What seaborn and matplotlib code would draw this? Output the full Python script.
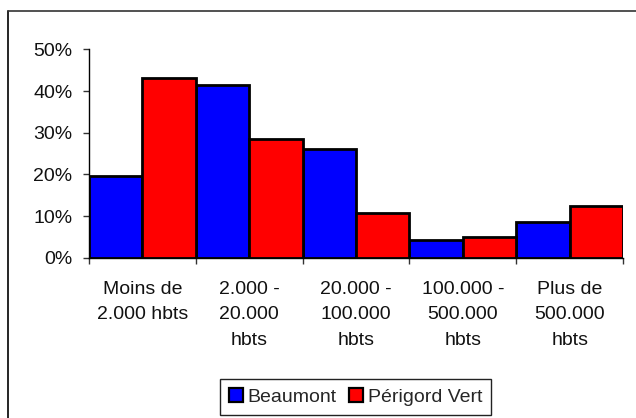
import pandas as pd
import matplotlib.pyplot as plt
import seaborn as sns
from matplotlib.lines import Line2D
from matplotlib.ticker import PercentFormatter, FixedLocator

# Data (percent)
categories = ['Moins de\n2.000 hbts', '2.000 -\n20.000\nhbts', '20.000 -\n100.000\nhbts',
              '100.000 -\n500.000\nhbts', 'Plus de\n500.000\nhbts']
beaumont = [19.6, 41.4, 26.0, 4.2, 8.6]
perigord = [43.1, 28.5, 10.7, 5.0, 12.5]
series_names = ['Beaumont', 'Périgord Vert']
y_ticks = [0, 10, 20, 30, 40, 50]

df = pd.DataFrame({
    'Categorie': categories * 2,
    'Valeur': beaumont + perigord,
    'Serie': [series_names[0]] * len(categories) + [series_names[1]] * len(categories),
})

sns.set_theme(style="white")
plt.rcParams['font.family'] = ['Liberation Sans', 'DejaVu Sans']

fig = plt.figure(figsize=(6.36, 4.18), dpi=100)
ax = fig.add_axes([0.140, 0.383, 0.8396, 0.499])

sns.barplot(data=df, x='Categorie', y='Valeur', hue='Serie', order=categories,
            hue_order=series_names, palette=['#0000FF', '#FF0000'], width=1.0,
            edgecolor='black', linewidth=2.0, saturation=1, ax=ax, legend=False)

ax.set_xlim(-0.5, len(categories) - 0.5)
ax.set_ylim(0, 50)
ax.set_yticks(y_ticks)
ax.yaxis.set_major_formatter(PercentFormatter(decimals=0))
ax.set_xlabel('')
ax.set_ylabel('')

# category labels centred, tick marks at group boundaries
ax.set_xticks(range(len(categories)))
ax.set_xticklabels(categories, fontsize=14, linespacing=1.65, color='#111111')
ax.xaxis.set_minor_locator(FixedLocator([i - 0.5 for i in range(len(categories) + 1)]))
ax.tick_params(axis='x', which='major', length=0, pad=16.5)
ax.tick_params(axis='x', which='minor', length=4.5, width=1, color='#333333', direction='out', bottom=True)
ax.tick_params(axis='y', length=4.5, width=1, color='#333333', direction='out', left=True,
               labelsize=14, labelcolor='#111111', pad=7.5)

for side in ['top', 'right']:
    ax.spines[side].set_visible(False)
for side in ['left', 'bottom']:
    ax.spines[side].set_color('black')
    ax.spines[side].set_linewidth(1.0)

handles = [Line2D([], [], marker='s', linestyle='none', markersize=10,
                  markerfacecolor=c, markeredgecolor='black', markeredgewidth=1.6)
           for c in ['#0000FF', '#FF0000']]
leg = fig.legend(handles, series_names, loc='center', bbox_to_anchor=(355.5 / 636, 1 - 397 / 418),
                 ncol=2, fontsize=14, frameon=True, fancybox=False, framealpha=1,
                 edgecolor='#222222', handletextpad=0.2, columnspacing=0.6,
                 borderpad=0.45, borderaxespad=0, handlelength=0.8)
leg.get_frame().set_linewidth(1.0)

# chart border (left and top only visible in the reference crop)
fig.add_artist(Line2D([8 / 636, 8 / 636], [0, 1 - 11 / 418], transform=fig.transFigure,
                      color='black', linewidth=1.2))
fig.add_artist(Line2D([8 / 636, 1], [1 - 11 / 418, 1 - 11 / 418], transform=fig.transFigure,
                      color='#333333', linewidth=1.2))

plt.savefig('out.png', dpi=100)
